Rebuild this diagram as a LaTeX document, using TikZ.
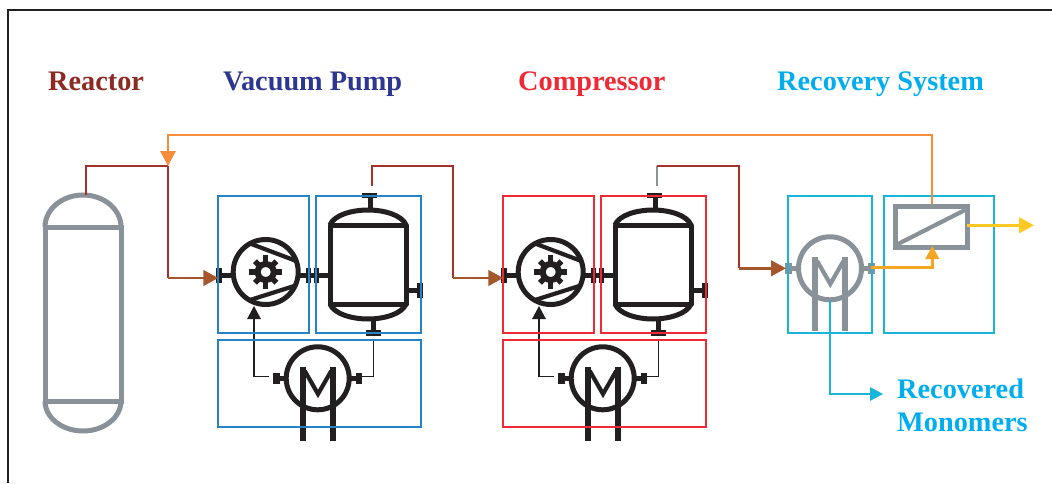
\documentclass[tikz,border=0pt]{standalone}
\usepackage{fontspec}
\setmainfont{Liberation Serif}
\usetikzlibrary{arrows.meta}
\definecolor{pfgray}{RGB}{138,146,153}
\definecolor{pfdark}{RGB}{35,31,32}
\definecolor{pfblue}{RGB}{36,132,198}
\definecolor{pfred}{RGB}{238,42,53}
\definecolor{pfcyan}{RGB}{25,181,216}
\definecolor{pfsky}{RGB}{0,174,239}
\definecolor{pfnavy}{RGB}{46,54,146}
\definecolor{pfwine}{RGB}{165,49,43}
\definecolor{pfbrown}{RGB}{165,86,42}
\definecolor{pforange}{RGB}{246,140,60}
\definecolor{pfamber}{RGB}{245,166,35}
\definecolor{pfyellow}{RGB}{255,200,34}
\tikzset{
  title/.style={font=\fontsize{28.3}{33}\selectfont\bfseries,anchor=base west,inner sep=0pt},
  unitbox/.style={draw=#1,line width=1.7pt},
  wall/.style={line width=5pt},
  signal/.style={draw=pfdark,line width=1.4pt},
  feedline/.style={draw=pfwine,line width=1.7pt},
  tiplarge/.style={-{Triangle[length=15pt,width=15.5pt]}},
  tipsmall/.style={-{Triangle[length=13pt,width=13.5pt]}},
  pics/motorhx/.style={code={
    \draw[#1,line width=6pt] (-14.7,11.3)--(-14.7,-62.4);
    \draw[#1,line width=6pt] (15.3,11.3)--(15.3,-62.4);
    \draw[#1,line width=4.2pt] (-13,7.5)--(0.3,-15.7)--(13.6,7.5);
    \draw[#1,wall] (0,0) circle[radius=31.5];
    \draw[#1,line width=4.5pt] (-38,0)--(-33,0);
    \draw[#1,line width=4.5pt] (33,0)--(38,0);
    \fill[#1] (-44.7,-5.6) rectangle (-38,5.6);
    \fill[#1] (38,-5.6) rectangle (44.5,5.6);
    \coordinate (-r) at (41,1);
    \coordinate (-b) at (0,-33);
  }},
  pics/stage/.style={code={
    % pump
    \draw[pfdark,wall] (265.7,211) circle[radius=32.5];
    \draw[pfdark,line width=4.2pt] (250,239.5)--(295.5,222.3);
    \draw[pfdark,line width=4.2pt] (250,183)--(295.8,197.5);
    \draw[pfdark,line width=6pt] (265.7,211) circle[radius=8];
    \foreach \ang in {0,90,180,270}
      \draw[pfdark,line width=5.5pt] (265.7,211)++(\ang:9)--++(\ang:7.7);
    \foreach \ang in {45,135,225,315}
      \draw[pfdark,line width=5.5pt] (265.7,211)++(\ang:9)--++(\ang:6.2);
    \draw[pfdark,line width=5pt] (219,207.3)--(234,207.3);
    \draw[pfdark,line width=5pt] (298,207.3)--(330,207.3);
    \fill[pfdark] (216,200.3) rectangle (221.7,214.7);
    \fill[pfdark] (306.3,200.3) rectangle (311,214.7);
    \fill[pfdark] (313.7,200.3) rectangle (318.7,214.7);
    % vessel
    \draw[pfdark,wall,line join=round] (330,179) rectangle (406,258);
    \draw[pfdark,wall] (330,258) .. controls (334,268) and (352,273) .. (368,273) .. controls (384,273) and (402,268) .. (406,258);
    \draw[pfdark,wall] (330,179) .. controls (334,169) and (352,164) .. (368,164) .. controls (384,164) and (402,169) .. (406,179);
    \draw[pfdark,wall] (370,273)--(370,287);
    \draw[pfdark,wall] (373,164)--(373,150);
    \draw[pfdark,wall] (408,193)--(421,193);
    \fill[pfdark] (362,285) rectangle (377,290);
    \fill[pfdark] (366,147) rectangle (381,153);
    \fill[pfdark] (417.3,185) rectangle (422.7,200);
    % drive
    \pic (-hx) at (317.7,104.7) {motorhx=pfdark};
    \coordinate (-in) at (218.3,205);
    \coordinate (-out) at (371.7,297);
    \coordinate (-pumpb) at (254,177);
    \coordinate (-sigl) at (269,106.3);
    \coordinate (-sigc) at (254,106.3);
    \coordinate (-sigr) at (362,106.3);
    \coordinate (-sigd) at (373.5,143.5);
    \draw[signal,tipsmall] (-sigl)--(-sigc)--(-pumpb);
    \draw[signal] (-sigr)-|(-sigd);
    % boxes
    \draw[unitbox=#1] (218,150) rectangle (309,287);
    \draw[unitbox=#1] (316,150) rectangle (421,287);
    \draw[unitbox=#1] (218,56) rectangle (421,143);
  }},
}
\begin{document}
\begin{tikzpicture}[x=1pt,y=1pt,>=Latex]
  \useasboundingbox (0,0) rectangle (1052,483);
  \coordinate (fa) at (8,0);
  \coordinate (fb) at (8,473);
  \coordinate (fc) at (1052,473);
  \draw[pfdark,line width=1.5pt] (fa)--(fb)--(fc);

  \node[title,text=pfwine!85!black] (ttreactor) at (48,392) {Reactor};
  \node[title,text=pfnavy] (ttvacuum) at (223,392) {Vacuum Pump};
  \node[title,text=pfred] (ttcomp) at (518,392) {Compressor};
  \node[title,text=pfsky] (ttrec) at (777,392) {Recovery System};
  \node[title,text=pfsky] (ttmon) at (897,84.8) {Recovered};
  \node[title,text=pfsky] (ttmon2) at (897,51.5) {Monomers};

  % reactor
  \draw[pfgray,line width=5pt] (45,82) rectangle (121,256);
  \draw[pfgray,line width=5pt] (45,256) arc[start angle=180,end angle=0,x radius=38pt,y radius=32pt];
  \draw[pfgray,line width=5pt] (45,82) arc[start angle=180,end angle=360,x radius=38pt,y radius=30pt];
  \coordinate (rtop) at (85.7,288);

  \pic (vp) at (0,0) {stage=pfblue};
  \pic (cp) at (285,0) {stage=pfred};

  % recovery
  \pic (hx) at (830,214.7) {motorhx=pfgray};
  \draw[pfgray,line width=5.5pt] (895.5,235.5) rectangle (967.5,276.5);
  \draw[pfgray,line width=4.2pt] (898,239)--(965,273);
  \draw[unitbox=pfcyan] (787.7,150) rectangle (871.7,287);
  \draw[unitbox=pfcyan] (883.7,150) rectangle (994.3,287);
  \coordinate (memtop) at (932.3,279);
  \coordinate (membot) at (932.3,237);
  \coordinate (memout) at (966.7,257.7);
  \coordinate (prodout) at (1034,257.7);
  \coordinate (monout) at (883,89);
  \coordinate (retn) at (168,348);
  \coordinate (merge) at (168,317);

  % connectors
  \draw[feedline] (rtop)|-(merge);
  \coordinate (vpb) at (168,205);
  \draw[feedline] (merge)--(vpb);
  \draw[pfbrown,line width=2.8pt,tiplarge] (vpb)--(vp-in);

  \coordinate (vpa) at (453,317);
  \coordinate (vpc) at (453,205);
  \draw[feedline] (vp-out)|-(vpa)--(vpc);
  \draw[pfbrown,line width=2.8pt,tiplarge] (vpc)--(cp-in);

  \coordinate (cpa) at (739,317);
  \coordinate (cpc) at (739,214.7);
  \coordinate (hxin) at (786,214.7);
  \coordinate (cpk) at (656.7,317);
  \draw[pfgray,line width=1.7pt] (cp-out)--(cpk);
  \draw[feedline] (cpk)--(cpa)--(cpc);
  \draw[pfbrown,line width=2.8pt,tiplarge] (cpc)--(hxin);

  \draw[pforange,line width=1.7pt,tiplarge] (memtop)|-(retn)--(merge);
  \draw[pfamber,line width=2.8pt,tipsmall] (hx-r)-|(membot);
  \draw[pfyellow,line width=3pt,tiplarge] (memout)--(prodout);
  \draw[pfcyan,line width=1.7pt,tipsmall] (hx-b)|-(monout);
\end{tikzpicture}
\end{document}
